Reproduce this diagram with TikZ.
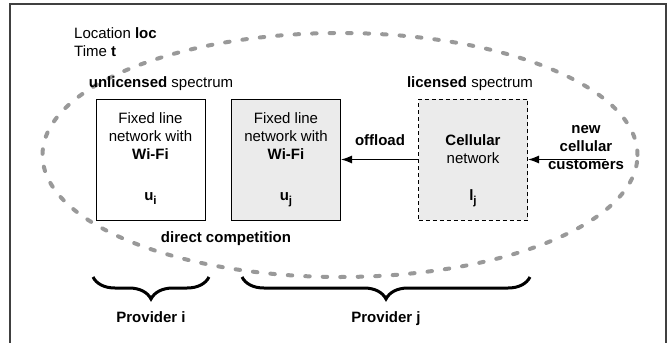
\documentclass[tikz,border=0pt]{standalone}
\usepackage{fontspec}
\setmainfont{Liberation Sans}
\usepackage{tikz}
\usetikzlibrary{arrows, arrows.meta}
\usetikzlibrary{positioning, decorations.pathreplacing}
\newcommand{\lowsub}[2]{\textbf{#1}\raisebox{-0.6ex}{\fontsize{11.5}{11.5}\selectfont\textbf{#2}}}

\begin{document}
\begin{tikzpicture}[x=10pt, y=10pt,
  box/.style={draw=black, line width=1pt, minimum width=109pt, minimum height=121pt},
  grey box/.style={box, fill=black!8},
  licbox/.style={grey box, dashed, dash pattern=on 4pt off 3pt},
  zone/.style={draw=black!40, line width=4pt, line cap=round, dash pattern=on 4.5pt off 13pt},
  arr/.style={-{Latex[length=11pt,width=8pt]}, line width=1.2pt},
  brc/.style={decorate, decoration={brace, amplitude=22pt, mirror}, line width=3pt}]
\tikzstyle{every node}+=[inner sep=0pt, font=\fontsize{15}{18}\selectfont]
\useasboundingbox (0,0) rectangle (67,-34.3);
\draw [black!75, line width=1.3pt] (1.0,-34.3) -- (1.0,-0.4) -- (66.6,-0.4) -- (66.6,-34.3);
\draw [zone] (34.0,-15.5) ellipse [x radius=29.75, y radius=12.2];
\node (loc) [anchor=base west] at (7.4,-3.8) {Location \textbf{loc}};
\node (time) [anchor=base west] at (7.4,-5.6) {Time \textbf{t}};
\node (unlic) [anchor=base] at (16.1,-8.75) {\textbf{unlicensed} spectrum};
\node (lic) [anchor=base] at (47.0,-8.75) {\textbf{licensed} spectrum};
\node (wifii) [box] at (15.05,-15.95) {};
\node (wifij) [grey box] at (28.6,-15.95) {};
\node (cell) [licbox] at (47.3,-15.95) {};
\node (wifiitxt) [anchor=north, align=center] at (15.05,-11.2) {Fixed line\\network with\\\textbf{Wi-Fi}};
\node (wifijtxt) [anchor=north, align=center] at (28.6,-11.2) {Fixed line\\network with\\\textbf{Wi-Fi}};
\node (celltxt) [anchor=north, align=center] at (47.3,-13.4) {\textbf{Cellular}\\network};
\node (ui) [anchor=base] at (15.05,-20.0) {\lowsub{u}{i}};
\node (uj) [anchor=base] at (28.6,-20.0) {\lowsub{u}{j}};
\node (lj) [anchor=base] at (47.3,-20.0) {\lowsub{l}{j}};
\node (offl) [anchor=base] at (38.0,-14.5) {\textbf{offload}};
\node (newcust) [anchor=north, align=center] at (58.6,-12.5) {\textbf{new}\\\textbf{cellular}\\\textbf{customers}};
\node (compet) [anchor=base] at (22.6,-24.2) {\textbf{direct competition}};
\coordinate (newin) at (60.6,-15.95);
\draw [arr] (cell.west) -- (wifij.east);
\draw [arr] (newin) -- (cell.east);
\coordinate (bi1) at (9.3,-27.7);
\coordinate (bi2) at (20.9,-27.7);
\coordinate (bj1) at (24.2,-27.7);
\coordinate (bj2) at (53.0,-27.7);
\draw [brc] (bi1) -- (bi2);
\draw [brc] (bj1) -- (bj2);
\node (provi) [anchor=base] at (15.1,-32.2) {\textbf{Provider i}};
\node (provj) [anchor=base] at (38.6,-32.2) {\textbf{Provider j}};
\end{tikzpicture}
\end{document}
